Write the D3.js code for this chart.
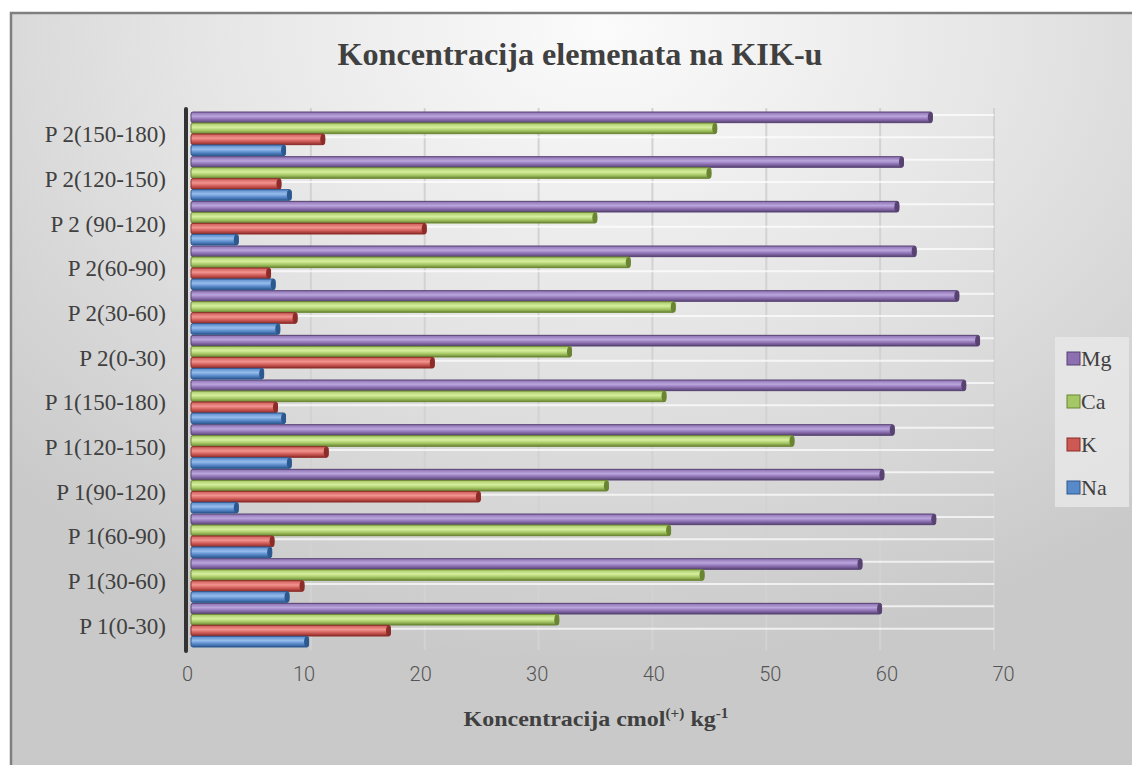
<!DOCTYPE html>
<html>
<head>
<meta charset="utf-8">
<script src="https://cdn.jsdelivr.net/npm/d3@7"></script>
<style>
  body { margin: 0; background: #fff; }
  svg { display: block; }
</style>
</head>
<body>
<svg id="chart" width="1132" height="765"></svg>
<script>
// categories, bottom to top as in the chart
var categories = ['P 1(0-30)', 'P 1(30-60)', 'P 1(60-90)', 'P 1(90-120)', 'P 1(120-150)', 'P 1(150-180)',
                  'P 2(0-30)', 'P 2(30-60)', 'P 2(60-90)', 'P 2 (90-120)', 'P 2(120-150)', 'P 2(150-180)'];
var seriesNames = ['Mg', 'Ca', 'K', 'Na'];
var na = [10.2, 8.5, 7.0, 4.1, 8.7, 8.2, 6.3, 7.7, 7.3, 4.1, 8.7, 8.2];
var k  = [17.3, 9.8, 7.2, 25.1, 11.9, 7.5, 21.1, 9.2, 6.9, 20.4, 7.8, 11.6];
var ca = [31.9, 44.5, 41.6, 36.2, 52.3, 41.2, 33.0, 42.0, 38.1, 35.2, 45.1, 45.6];
var mg = [59.9, 58.2, 64.6, 60.1, 61.0, 67.2, 68.4, 66.6, 62.9, 61.4, 61.8, 64.3];
var xTicks = [0, 10, 20, 30, 40, 50, 60, 70];

var values = { Mg: mg, Ca: ca, K: k, Na: na };
var colors = {
  Mg: { base: '#8b6fb0', light: '#bba6dd', dark: '#574272' },
  Ca: { base: '#a6c765', light: '#d6ef9e', dark: '#6a8532' },
  K:  { base: '#cd5955', light: '#f29490', dark: '#8c2c29' },
  Na: { base: '#5889c9', light: '#97bdec', dark: '#2c5890' }
};

var svg = d3.select('#chart');
var defs = svg.append('defs');

// background
var bg = defs.append('radialGradient').attr('id', 'bg')
  .attr('cx', '0.52').attr('cy', '0.02').attr('r', '0.75')
  .attr('gradientTransform', 'scale(1,1.1)');
bg.append('stop').attr('offset', '0%').attr('stop-color', '#fbfbfb');
bg.append('stop').attr('offset', '50%').attr('stop-color', '#e4e4e4');
bg.append('stop').attr('offset', '100%').attr('stop-color', '#c9c9c9');

svg.append('rect').attr('x', 10).attr('y', 12).attr('width', 1140).attr('height', 770)
  .attr('fill', 'url(#bg)');
svg.append('path').attr('d', 'M11,770 L11,13 L1140,13')
  .attr('fill', 'none').attr('stroke', '#7f7f7f').attr('stroke-width', 2.5);

seriesNames.forEach(function(s) {
  var g = defs.append('linearGradient').attr('id', 'grad' + s)
    .attr('x1', 0).attr('y1', 0).attr('x2', 0).attr('y2', 1);
  g.append('stop').attr('offset', '0%').attr('stop-color', colors[s].base);
  g.append('stop').attr('offset', '40%').attr('stop-color', colors[s].light);
  g.append('stop').attr('offset', '70%').attr('stop-color', colors[s].base);
  g.append('stop').attr('offset', '100%').attr('stop-color', colors[s].dark);
});

// scales
var x = d3.scaleLinear().domain([0, 70]).range([191, 998]);      // bars
var xWall = d3.scaleLinear().domain([0, 70]).range([197, 994]);  // back wall grid
var xLab = d3.scaleLinear().domain([0, 70]).range([187, 1003]);  // tick labels
var y = d3.scaleBand().domain(categories.slice().reverse()).range([112, 648]);
var yInner = d3.scaleBand().domain(seriesNames).range([0, y.bandwidth() - 1]).paddingInner(0.03);

// back wall grid
var grid = svg.append('g');
grid.selectAll('line.v').data(xTicks.slice(1)).enter().append('line')
  .attr('x1', function(d) { return xWall(d); }).attr('x2', function(d) { return xWall(d); })
  .attr('y1', 108).attr('y2', 650)
  .attr('stroke', '#d2d2d2').attr('stroke-width', 2);
var hLines = [];
categories.forEach(function(c) { hLines.push(y(c) + 3); hLines.push(y(c) + y.bandwidth() / 2 + 3); });
grid.selectAll('line.h').data(hLines).enter().append('line')
  .attr('x1', xWall(0)).attr('x2', xWall(70))
  .attr('y1', function(d) { return d; }).attr('y2', function(d) { return d; })
  .attr('stroke', '#ffffff').attr('stroke-opacity', 0.7).attr('stroke-width', 2);

// bars
var rows = [];
categories.forEach(function(c, i) {
  seriesNames.forEach(function(s) { rows.push({ cat: c, s: s, v: values[s][i] }); });
});
var bars = svg.append('g').selectAll('g').data(rows).enter().append('g');
bars.append('rect')
  .attr('x', x(0))
  .attr('y', function(d) { return y(d.cat) + yInner(d.s); })
  .attr('width', function(d) { return x(d.v) - x(0); })
  .attr('height', yInner.bandwidth())
  .attr('rx', 2)
  .attr('fill', function(d) { return 'url(#grad' + d.s + ')'; })
  .attr('stroke', function(d) { return colors[d.s].dark; })
  .attr('stroke-width', 1);
bars.append('ellipse')
  .attr('cx', function(d) { return x(d.v) - 2; })
  .attr('cy', function(d) { return y(d.cat) + yInner(d.s) + yInner.bandwidth() / 2; })
  .attr('rx', 2.5)
  .attr('ry', yInner.bandwidth() / 2)
  .attr('fill', function(d) { return colors[d.s].dark; });

// value axis line (left)
svg.append('line').attr('x1', 186).attr('x2', 186).attr('y1', 109).attr('y2', 651)
  .attr('stroke', '#333').attr('stroke-width', 4).attr('stroke-linecap', 'round');

// category labels
svg.append('g').selectAll('text').data(categories).enter().append('text')
  .attr('x', 166)
  .attr('y', function(d) { return y(d) + y.bandwidth() / 2; })
  .attr('dy', '0.35em')
  .attr('text-anchor', 'end')
  .attr('font-family', '"Liberation Serif", "Times New Roman", serif')
  .attr('font-size', 23)
  .attr('fill', '#404040')
  .text(function(d) { return d; });

// tick labels
var axis = svg.append('g').attr('transform', 'translate(0,667)')
  .call(d3.axisBottom(xLab).tickValues(xTicks).tickSize(0).tickPadding(0));
axis.select('.domain').remove();
axis.selectAll('text')
  .attr('font-family', 'Roboto, "Open Sans", sans-serif')
  .attr('font-weight', 300)
  .attr('font-size', 20)
  .attr('fill', '#555')
  .attr('dy', '0.71em');

// titles
svg.append('text').attr('x', 580).attr('y', 65)
  .attr('text-anchor', 'middle')
  .attr('font-family', '"Liberation Serif", "Times New Roman", serif')
  .attr('font-weight', 'bold').attr('font-size', 31).attr('fill', '#404040')
  .attr('textLength', 485).attr('lengthAdjust', 'spacingAndGlyphs')
  .text('Koncentracija elemenata na KIK-u');

var xt = svg.append('text').attr('x', 596).attr('y', 726)
  .attr('text-anchor', 'middle')
  .attr('font-family', '"Liberation Serif", "Times New Roman", serif')
  .attr('font-weight', 'bold').attr('font-size', 22).attr('fill', '#404040')
  .attr('textLength', 265).attr('lengthAdjust', 'spacingAndGlyphs');
xt.append('tspan').text('Koncentracija cmol');
xt.append('tspan').attr('font-size', 14).attr('dy', -8).text('(+)');
xt.append('tspan').attr('dy', 8).text(' kg');
xt.append('tspan').attr('font-size', 14).attr('dy', -8).text('-1');

// legend
var legend = svg.append('g');
legend.append('rect').attr('x', 1055).attr('y', 337).attr('width', 74).attr('height', 170)
  .attr('fill', '#e9e9e9').attr('fill-opacity', 0.8);
var li = legend.selectAll('g').data(seriesNames).enter().append('g')
  .attr('transform', function(d, i) { return 'translate(1067,' + (358 + i * 43) + ')'; });
li.append('rect').attr('x', 0).attr('y', -6).attr('width', 13).attr('height', 13)
  .attr('fill', function(d) { return colors[d].base; })
  .attr('stroke', function(d) { return colors[d].dark; }).attr('stroke-width', 1);
li.append('text').attr('x', 14).attr('dy', '0.35em')
  .attr('font-family', '"Liberation Serif", "Times New Roman", serif')
  .attr('font-size', 22).attr('fill', '#404040')
  .text(function(d) { return d; });
</script>
</body>
</html>
